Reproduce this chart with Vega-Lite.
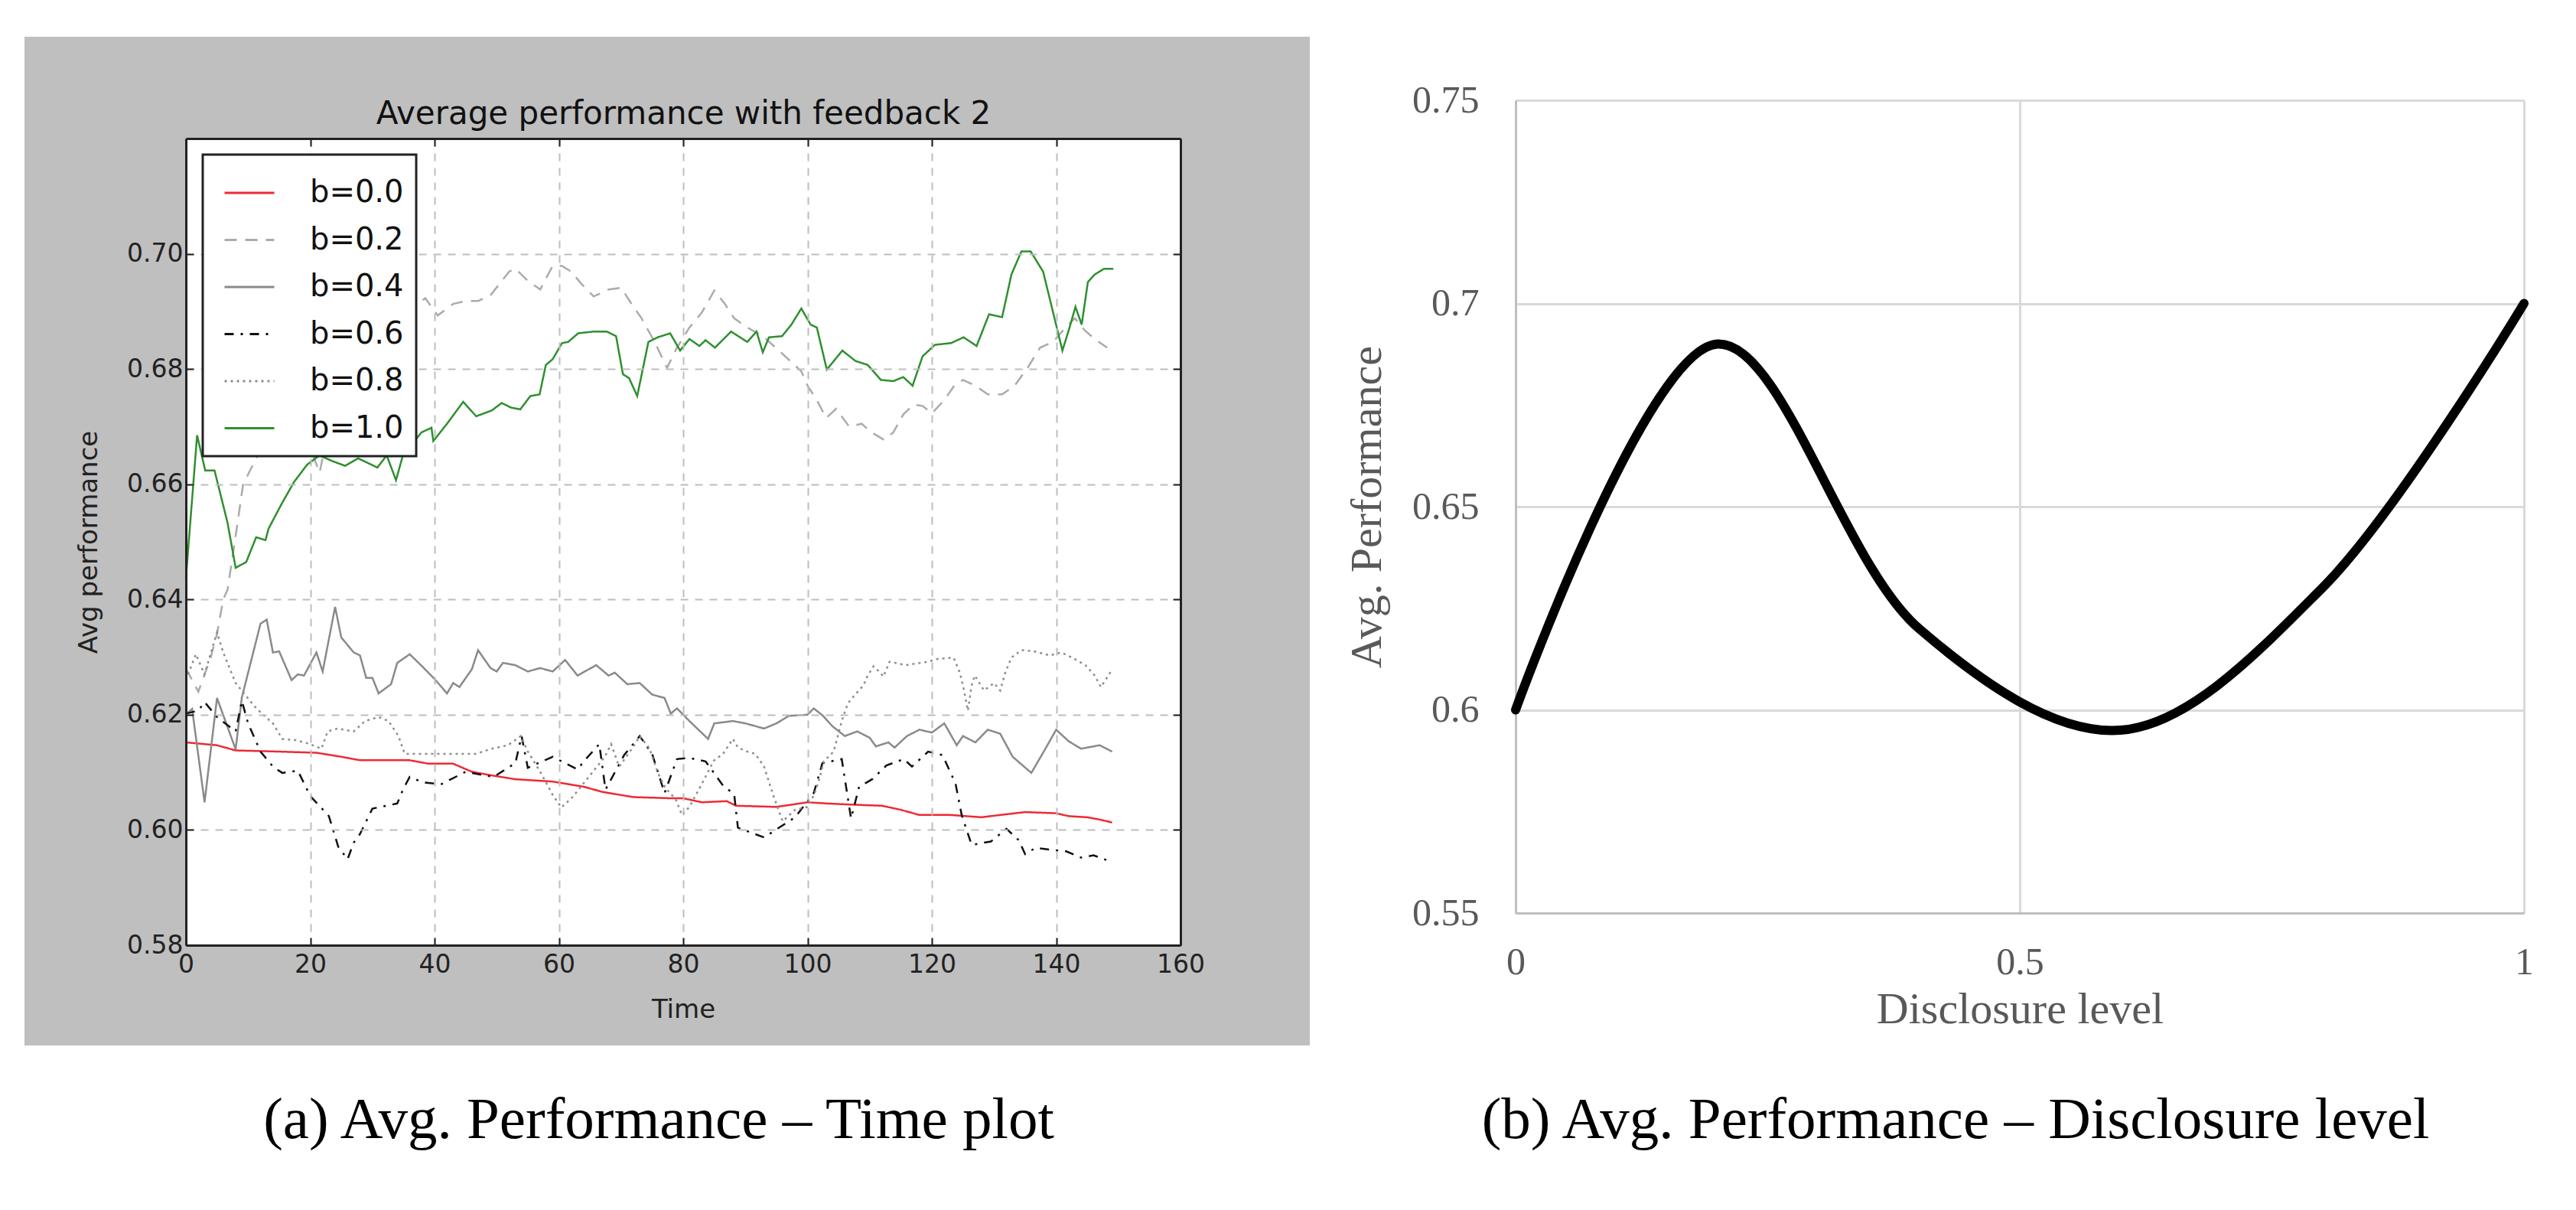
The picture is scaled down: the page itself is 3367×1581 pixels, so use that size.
{
  "$schema": "https://vega.github.io/schema/vega-lite/v6.json",
  "background": "white",
  "padding": {"left": 31, "top": 47, "right": 0, "bottom": 30},
  "spacing": 0,
  "config": {"view": {"stroke": null}},
  "datasets": {
    "left": [
      {"b":"b=0.0","t":0,"v":0.6152},{"b":"b=0.0","t":5,"v":0.6147},{"b":"b=0.0","t":8,"v":0.6138},{"b":"b=0.0","t":15,"v":0.6136},{"b":"b=0.0","t":21,"v":0.6134},{"b":"b=0.0","t":25,"v":0.6127},{"b":"b=0.0","t":28,"v":0.6121},{"b":"b=0.0","t":36,"v":0.6121},{"b":"b=0.0","t":39,"v":0.6115},{"b":"b=0.0","t":43,"v":0.6115},{"b":"b=0.0","t":46,"v":0.6101},{"b":"b=0.0","t":49,"v":0.6095},{"b":"b=0.0","t":53,"v":0.6088},{"b":"b=0.0","t":59,"v":0.6084},{"b":"b=0.0","t":64,"v":0.6075},{"b":"b=0.0","t":67,"v":0.6066},{"b":"b=0.0","t":72,"v":0.6057},{"b":"b=0.0","t":78,"v":0.6055},{"b":"b=0.0","t":80,"v":0.6055},{"b":"b=0.0","t":83,"v":0.6048},{"b":"b=0.0","t":87,"v":0.605},{"b":"b=0.0","t":88.5,"v":0.6042},{"b":"b=0.0","t":95,"v":0.604},{"b":"b=0.0","t":100,"v":0.6048},{"b":"b=0.0","t":103,"v":0.6046},{"b":"b=0.0","t":107,"v":0.6044},{"b":"b=0.0","t":112,"v":0.6042},{"b":"b=0.0","t":115,"v":0.6035},{"b":"b=0.0","t":118,"v":0.6026},{"b":"b=0.0","t":123,"v":0.6026},{"b":"b=0.0","t":128,"v":0.6022},{"b":"b=0.0","t":131,"v":0.6026},{"b":"b=0.0","t":135,"v":0.6031},{"b":"b=0.0","t":140,"v":0.6029},{"b":"b=0.0","t":142,"v":0.6024},{"b":"b=0.0","t":145,"v":0.6022},{"b":"b=0.0","t":147,"v":0.6018},{"b":"b=0.0","t":149,"v":0.6013},

      {"b":"b=0.2","t":0,"v":0.628},{"b":"b=0.2","t":2,"v":0.624},{"b":"b=0.2","t":4,"v":0.63},{"b":"b=0.2","t":5,"v":0.634},{"b":"b=0.2","t":6,"v":0.64},{"b":"b=0.2","t":6.7,"v":0.6417},{"b":"b=0.2","t":8,"v":0.651},{"b":"b=0.2","t":9.2,"v":0.66},{"b":"b=0.2","t":10.8,"v":0.6634},{"b":"b=0.2","t":12,"v":0.666},{"b":"b=0.2","t":14,"v":0.668},{"b":"b=0.2","t":18,"v":0.672},{"b":"b=0.2","t":21.5,"v":0.662},{"b":"b=0.2","t":24,"v":0.675},{"b":"b=0.2","t":28,"v":0.682},{"b":"b=0.2","t":32,"v":0.686},{"b":"b=0.2","t":36,"v":0.69},{"b":"b=0.2","t":38.5,"v":0.6923},{"b":"b=0.2","t":40.5,"v":0.6893},{"b":"b=0.2","t":43,"v":0.6913},{"b":"b=0.2","t":45,"v":0.6918},{"b":"b=0.2","t":47,"v":0.6918},{"b":"b=0.2","t":49,"v":0.6928},{"b":"b=0.2","t":52,"v":0.6969},{"b":"b=0.2","t":53,"v":0.6974},{"b":"b=0.2","t":55,"v":0.6953},{"b":"b=0.2","t":57,"v":0.6938},{"b":"b=0.2","t":59,"v":0.6979},{"b":"b=0.2","t":60.5,"v":0.6979},{"b":"b=0.2","t":62,"v":0.6969},{"b":"b=0.2","t":63.6,"v":0.6948},{"b":"b=0.2","t":65.6,"v":0.6926},{"b":"b=0.2","t":68,"v":0.6938},{"b":"b=0.2","t":70,"v":0.6941},{"b":"b=0.2","t":72,"v":0.6908},{"b":"b=0.2","t":73.3,"v":0.6888},{"b":"b=0.2","t":75.4,"v":0.6847},{"b":"b=0.2","t":77.4,"v":0.6802},{"b":"b=0.2","t":79,"v":0.6837},{"b":"b=0.2","t":81,"v":0.6872},{"b":"b=0.2","t":83,"v":0.6898},{"b":"b=0.2","t":85,"v":0.6936},{"b":"b=0.2","t":86.7,"v":0.6913},{"b":"b=0.2","t":88.2,"v":0.6888},{"b":"b=0.2","t":90.3,"v":0.6872},{"b":"b=0.2","t":92.8,"v":0.6857},{"b":"b=0.2","t":95.4,"v":0.6832},{"b":"b=0.2","t":97.4,"v":0.6812},{"b":"b=0.2","t":99,"v":0.6796},{"b":"b=0.2","t":100,"v":0.6771},{"b":"b=0.2","t":101.5,"v":0.6746},{"b":"b=0.2","t":103,"v":0.6715},{"b":"b=0.2","t":104.6,"v":0.6731},{"b":"b=0.2","t":106.7,"v":0.67},{"b":"b=0.2","t":108.7,"v":0.6705},{"b":"b=0.2","t":110.3,"v":0.669},{"b":"b=0.2","t":112.3,"v":0.6677},{"b":"b=0.2","t":113.8,"v":0.669},{"b":"b=0.2","t":115.4,"v":0.6721},{"b":"b=0.2","t":117,"v":0.6738},{"b":"b=0.2","t":118.5,"v":0.6736},{"b":"b=0.2","t":120,"v":0.6723},{"b":"b=0.2","t":122,"v":0.6746},{"b":"b=0.2","t":123.6,"v":0.6771},{"b":"b=0.2","t":125,"v":0.6781},{"b":"b=0.2","t":127,"v":0.6771},{"b":"b=0.2","t":129,"v":0.6756},{"b":"b=0.2","t":131.3,"v":0.6756},{"b":"b=0.2","t":133.3,"v":0.6771},{"b":"b=0.2","t":135.4,"v":0.6802},{"b":"b=0.2","t":137.4,"v":0.6837},{"b":"b=0.2","t":139.5,"v":0.6847},{"b":"b=0.2","t":141.5,"v":0.6872},{"b":"b=0.2","t":143,"v":0.6888},{"b":"b=0.2","t":144.6,"v":0.6867},{"b":"b=0.2","t":146.2,"v":0.6852},{"b":"b=0.2","t":148.2,"v":0.6837},

      {"b":"b=0.4","t":0,"v":0.62},{"b":"b=0.4","t":1,"v":0.621},{"b":"b=0.4","t":3,"v":0.6048},{"b":"b=0.4","t":5,"v":0.6229},{"b":"b=0.4","t":8,"v":0.614},{"b":"b=0.4","t":9,"v":0.623},{"b":"b=0.4","t":12,"v":0.6358},{"b":"b=0.4","t":13,"v":0.6365},{"b":"b=0.4","t":14,"v":0.6308},{"b":"b=0.4","t":15,"v":0.631},{"b":"b=0.4","t":17,"v":0.626},{"b":"b=0.4","t":18,"v":0.627},{"b":"b=0.4","t":19,"v":0.6268},{"b":"b=0.4","t":21,"v":0.6308},{"b":"b=0.4","t":22,"v":0.6275},{"b":"b=0.4","t":24,"v":0.6387},{"b":"b=0.4","t":25,"v":0.6334},{"b":"b=0.4","t":27,"v":0.6308},{"b":"b=0.4","t":28,"v":0.6303},{"b":"b=0.4","t":29,"v":0.6264},{"b":"b=0.4","t":30,"v":0.6264},{"b":"b=0.4","t":31,"v":0.6237},{"b":"b=0.4","t":33,"v":0.6253},{"b":"b=0.4","t":34,"v":0.629},{"b":"b=0.4","t":36,"v":0.6305},{"b":"b=0.4","t":38,"v":0.6284},{"b":"b=0.4","t":40,"v":0.6262},{"b":"b=0.4","t":42,"v":0.6237},{"b":"b=0.4","t":43,"v":0.6255},{"b":"b=0.4","t":44,"v":0.6248},{"b":"b=0.4","t":46,"v":0.6279},{"b":"b=0.4","t":47,"v":0.6312},{"b":"b=0.4","t":49,"v":0.6281},{"b":"b=0.4","t":50,"v":0.6275},{"b":"b=0.4","t":51,"v":0.629},{"b":"b=0.4","t":53,"v":0.6286},{"b":"b=0.4","t":55,"v":0.6275},{"b":"b=0.4","t":57,"v":0.6281},{"b":"b=0.4","t":59,"v":0.6275},{"b":"b=0.4","t":61,"v":0.6295},{"b":"b=0.4","t":63,"v":0.6268},{"b":"b=0.4","t":66,"v":0.6286},{"b":"b=0.4","t":68,"v":0.6268},{"b":"b=0.4","t":69,"v":0.6273},{"b":"b=0.4","t":71,"v":0.6253},{"b":"b=0.4","t":73,"v":0.6255},{"b":"b=0.4","t":75,"v":0.6235},{"b":"b=0.4","t":77,"v":0.6229},{"b":"b=0.4","t":78,"v":0.6202},{"b":"b=0.4","t":79,"v":0.6211},{"b":"b=0.4","t":81,"v":0.6189},{"b":"b=0.4","t":84,"v":0.6158},{"b":"b=0.4","t":85,"v":0.6185},{"b":"b=0.4","t":88,"v":0.6189},{"b":"b=0.4","t":90,"v":0.6185},{"b":"b=0.4","t":93,"v":0.6176},{"b":"b=0.4","t":95,"v":0.6185},{"b":"b=0.4","t":97,"v":0.6198},{"b":"b=0.4","t":100,"v":0.62},{"b":"b=0.4","t":101,"v":0.6211},{"b":"b=0.4","t":102.5,"v":0.6198},{"b":"b=0.4","t":104,"v":0.618},{"b":"b=0.4","t":106,"v":0.6163},{"b":"b=0.4","t":108,"v":0.6171},{"b":"b=0.4","t":110,"v":0.616},{"b":"b=0.4","t":111,"v":0.6145},{"b":"b=0.4","t":113,"v":0.6152},{"b":"b=0.4","t":114,"v":0.6143},{"b":"b=0.4","t":116,"v":0.6163},{"b":"b=0.4","t":118,"v":0.6174},{"b":"b=0.4","t":120,"v":0.6169},{"b":"b=0.4","t":122,"v":0.6185},{"b":"b=0.4","t":124,"v":0.6147},{"b":"b=0.4","t":125,"v":0.6163},{"b":"b=0.4","t":127,"v":0.6152},{"b":"b=0.4","t":129,"v":0.6174},{"b":"b=0.4","t":131,"v":0.6167},{"b":"b=0.4","t":133,"v":0.6127},{"b":"b=0.4","t":136,"v":0.6099},{"b":"b=0.4","t":138,"v":0.6136},{"b":"b=0.4","t":140,"v":0.6174},{"b":"b=0.4","t":142,"v":0.6154},{"b":"b=0.4","t":144,"v":0.6141},{"b":"b=0.4","t":147,"v":0.6147},{"b":"b=0.4","t":149,"v":0.6136},

      {"b":"b=0.6","t":0,"v":0.6202},{"b":"b=0.6","t":2,"v":0.6207},{"b":"b=0.6","t":3,"v":0.6222},{"b":"b=0.6","t":5,"v":0.6196},{"b":"b=0.6","t":8,"v":0.6171},{"b":"b=0.6","t":9,"v":0.6224},{"b":"b=0.6","t":10,"v":0.6185},{"b":"b=0.6","t":12,"v":0.6136},{"b":"b=0.6","t":14,"v":0.611},{"b":"b=0.6","t":15.5,"v":0.6099},{"b":"b=0.6","t":18,"v":0.6103},{"b":"b=0.6","t":20,"v":0.6059},{"b":"b=0.6","t":23,"v":0.6024},{"b":"b=0.6","t":24.5,"v":0.5971},{"b":"b=0.6","t":26,"v":0.5949},{"b":"b=0.6","t":27,"v":0.5978},{"b":"b=0.6","t":28,"v":0.5993},{"b":"b=0.6","t":30,"v":0.6037},{"b":"b=0.6","t":34,"v":0.6046},{"b":"b=0.6","t":35,"v":0.6072},{"b":"b=0.6","t":36,"v":0.6092},{"b":"b=0.6","t":38,"v":0.6083},{"b":"b=0.6","t":41,"v":0.6079},{"b":"b=0.6","t":45,"v":0.6101},{"b":"b=0.6","t":49.5,"v":0.6092},{"b":"b=0.6","t":53,"v":0.6116},{"b":"b=0.6","t":54,"v":0.6163},{"b":"b=0.6","t":55,"v":0.6108},{"b":"b=0.6","t":59,"v":0.6127},{"b":"b=0.6","t":63,"v":0.6105},{"b":"b=0.6","t":64,"v":0.6119},{"b":"b=0.6","t":66.5,"v":0.6149},{"b":"b=0.6","t":67.5,"v":0.607},{"b":"b=0.6","t":70.5,"v":0.613},{"b":"b=0.6","t":73,"v":0.6163},{"b":"b=0.6","t":75,"v":0.6132},{"b":"b=0.6","t":77,"v":0.6064},{"b":"b=0.6","t":79,"v":0.6123},{"b":"b=0.6","t":81,"v":0.6125},{"b":"b=0.6","t":83.6,"v":0.6119},{"b":"b=0.6","t":86.4,"v":0.6077},{"b":"b=0.6","t":88.2,"v":0.6062},{"b":"b=0.6","t":88.8,"v":0.6004},{"b":"b=0.6","t":93,"v":0.5987},{"b":"b=0.6","t":98,"v":0.6022},{"b":"b=0.6","t":101,"v":0.6064},{"b":"b=0.6","t":102.4,"v":0.6116},{"b":"b=0.6","t":105.5,"v":0.6123},{"b":"b=0.6","t":106.3,"v":0.6068},{"b":"b=0.6","t":107,"v":0.602},{"b":"b=0.6","t":108.3,"v":0.6075},{"b":"b=0.6","t":110.4,"v":0.6088},{"b":"b=0.6","t":112.7,"v":0.6112},{"b":"b=0.6","t":115.5,"v":0.6123},{"b":"b=0.6","t":116.8,"v":0.611},{"b":"b=0.6","t":119.4,"v":0.6136},{"b":"b=0.6","t":121.7,"v":0.613},{"b":"b=0.6","t":123.8,"v":0.6081},{"b":"b=0.6","t":124.8,"v":0.6026},{"b":"b=0.6","t":126.4,"v":0.5974},{"b":"b=0.6","t":129.5,"v":0.598},{"b":"b=0.6","t":132,"v":0.6002},{"b":"b=0.6","t":134,"v":0.5982},{"b":"b=0.6","t":135,"v":0.5958},{"b":"b=0.6","t":136.7,"v":0.5969},{"b":"b=0.6","t":139.5,"v":0.5965},{"b":"b=0.6","t":141.6,"v":0.5963},{"b":"b=0.6","t":144,"v":0.5952},{"b":"b=0.6","t":146,"v":0.5956},{"b":"b=0.6","t":148.3,"v":0.5947},

      {"b":"b=0.8","t":0,"v":0.626},{"b":"b=0.8","t":1.6,"v":0.6305},{"b":"b=0.8","t":3,"v":0.627},{"b":"b=0.8","t":5,"v":0.6343},{"b":"b=0.8","t":6,"v":0.6308},{"b":"b=0.8","t":8,"v":0.6255},{"b":"b=0.8","t":11,"v":0.6215},{"b":"b=0.8","t":12.4,"v":0.62},{"b":"b=0.8","t":14,"v":0.6185},{"b":"b=0.8","t":15.5,"v":0.6158},{"b":"b=0.8","t":17.6,"v":0.6156},{"b":"b=0.8","t":19.7,"v":0.615},{"b":"b=0.8","t":21.8,"v":0.6141},{"b":"b=0.8","t":22.8,"v":0.6171},{"b":"b=0.8","t":24.4,"v":0.6176},{"b":"b=0.8","t":27,"v":0.6171},{"b":"b=0.8","t":28.8,"v":0.6189},{"b":"b=0.8","t":31,"v":0.6196},{"b":"b=0.8","t":32.6,"v":0.6189},{"b":"b=0.8","t":34.2,"v":0.6163},{"b":"b=0.8","t":35.2,"v":0.6132},{"b":"b=0.8","t":37,"v":0.6132},{"b":"b=0.8","t":41.5,"v":0.6132},{"b":"b=0.8","t":46.6,"v":0.6132},{"b":"b=0.8","t":49.2,"v":0.6141},{"b":"b=0.8","t":51.8,"v":0.6147},{"b":"b=0.8","t":53.9,"v":0.6163},{"b":"b=0.8","t":55,"v":0.6136},{"b":"b=0.8","t":57,"v":0.6101},{"b":"b=0.8","t":59,"v":0.6061},{"b":"b=0.8","t":60.4,"v":0.6039},{"b":"b=0.8","t":62.2,"v":0.6057},{"b":"b=0.8","t":64.8,"v":0.6092},{"b":"b=0.8","t":67.4,"v":0.6127},{"b":"b=0.8","t":68.4,"v":0.6149},{"b":"b=0.8","t":69.7,"v":0.611},{"b":"b=0.8","t":72,"v":0.6145},{"b":"b=0.8","t":73,"v":0.6163},{"b":"b=0.8","t":74.6,"v":0.6141},{"b":"b=0.8","t":76,"v":0.6097},{"b":"b=0.8","t":77.2,"v":0.6072},{"b":"b=0.8","t":78.8,"v":0.6053},{"b":"b=0.8","t":79.8,"v":0.6026},{"b":"b=0.8","t":81,"v":0.604},{"b":"b=0.8","t":83,"v":0.608},{"b":"b=0.8","t":84.9,"v":0.612},{"b":"b=0.8","t":86.4,"v":0.6132},{"b":"b=0.8","t":88,"v":0.6158},{"b":"b=0.8","t":88.8,"v":0.6143},{"b":"b=0.8","t":90.3,"v":0.6136},{"b":"b=0.8","t":91.6,"v":0.6132},{"b":"b=0.8","t":93,"v":0.611},{"b":"b=0.8","t":94.5,"v":0.606},{"b":"b=0.8","t":96,"v":0.6015},{"b":"b=0.8","t":98,"v":0.6035},{"b":"b=0.8","t":100,"v":0.604},{"b":"b=0.8","t":101.1,"v":0.6062},{"b":"b=0.8","t":102,"v":0.6092},{"b":"b=0.8","t":102.6,"v":0.6119},{"b":"b=0.8","t":104.2,"v":0.6136},{"b":"b=0.8","t":105.5,"v":0.6189},{"b":"b=0.8","t":106.5,"v":0.622},{"b":"b=0.8","t":107.5,"v":0.6233},{"b":"b=0.8","t":109,"v":0.6251},{"b":"b=0.8","t":109.6,"v":0.6266},{"b":"b=0.8","t":110.6,"v":0.6284},{"b":"b=0.8","t":111.7,"v":0.6273},{"b":"b=0.8","t":112.2,"v":0.6266},{"b":"b=0.8","t":113.2,"v":0.6292},{"b":"b=0.8","t":115.8,"v":0.6286},{"b":"b=0.8","t":119.4,"v":0.6292},{"b":"b=0.8","t":121,"v":0.6297},{"b":"b=0.8","t":123.5,"v":0.6299},{"b":"b=0.8","t":124.5,"v":0.6273},{"b":"b=0.8","t":125.1,"v":0.6246},{"b":"b=0.8","t":125.8,"v":0.6207},{"b":"b=0.8","t":126.4,"v":0.6251},{"b":"b=0.8","t":126.9,"v":0.6268},{"b":"b=0.8","t":128.4,"v":0.6242},{"b":"b=0.8","t":130,"v":0.6255},{"b":"b=0.8","t":131,"v":0.6242},{"b":"b=0.8","t":131.8,"v":0.6273},{"b":"b=0.8","t":132.8,"v":0.6299},{"b":"b=0.8","t":134.4,"v":0.6312},{"b":"b=0.8","t":136.4,"v":0.631},{"b":"b=0.8","t":139,"v":0.6303},{"b":"b=0.8","t":140.8,"v":0.6308},{"b":"b=0.8","t":142.6,"v":0.6299},{"b":"b=0.8","t":144.7,"v":0.6286},{"b":"b=0.8","t":146.2,"v":0.6268},{"b":"b=0.8","t":147.2,"v":0.6248},{"b":"b=0.8","t":148.8,"v":0.6275},

      {"b":"b=1.0","t":0,"v":0.6437},{"b":"b=1.0","t":1.8,"v":0.6685},{"b":"b=1.0","t":3.1,"v":0.6624},{"b":"b=1.0","t":4.6,"v":0.6624},{"b":"b=1.0","t":6.7,"v":0.6533},{"b":"b=1.0","t":8,"v":0.6455},{"b":"b=1.0","t":9.7,"v":0.6465},{"b":"b=1.0","t":11.3,"v":0.6508},{"b":"b=1.0","t":12.8,"v":0.6503},{"b":"b=1.0","t":13.3,"v":0.6523},{"b":"b=1.0","t":15.4,"v":0.6566},{"b":"b=1.0","t":17.4,"v":0.6604},{"b":"b=1.0","t":19.5,"v":0.6634},{"b":"b=1.0","t":21.5,"v":0.665},{"b":"b=1.0","t":23.6,"v":0.664},{"b":"b=1.0","t":25.6,"v":0.6632},{"b":"b=1.0","t":27.7,"v":0.6645},{"b":"b=1.0","t":30.8,"v":0.6629},{"b":"b=1.0","t":32.3,"v":0.665},{"b":"b=1.0","t":33.8,"v":0.6607},{"b":"b=1.0","t":34.9,"v":0.665},{"b":"b=1.0","t":37.9,"v":0.669},{"b":"b=1.0","t":39.5,"v":0.6698},{"b":"b=1.0","t":39.8,"v":0.6675},{"b":"b=1.0","t":42,"v":0.6705},{"b":"b=1.0","t":44.6,"v":0.6743},{"b":"b=1.0","t":46.7,"v":0.6718},{"b":"b=1.0","t":49.2,"v":0.6728},{"b":"b=1.0","t":50.8,"v":0.6741},{"b":"b=1.0","t":52.3,"v":0.6733},{"b":"b=1.0","t":53.8,"v":0.673},{"b":"b=1.0","t":55.4,"v":0.6753},{"b":"b=1.0","t":56.9,"v":0.6756},{"b":"b=1.0","t":57.9,"v":0.6807},{"b":"b=1.0","t":59,"v":0.6817},{"b":"b=1.0","t":60.5,"v":0.6845},{"b":"b=1.0","t":61.5,"v":0.6847},{"b":"b=1.0","t":63.1,"v":0.6862},{"b":"b=1.0","t":65.6,"v":0.6865},{"b":"b=1.0","t":67.7,"v":0.6865},{"b":"b=1.0","t":69.2,"v":0.6857},{"b":"b=1.0","t":70.3,"v":0.6791},{"b":"b=1.0","t":71.3,"v":0.6784},{"b":"b=1.0","t":72.6,"v":0.6753},{"b":"b=1.0","t":74.4,"v":0.6847},{"b":"b=1.0","t":75.9,"v":0.6855},{"b":"b=1.0","t":77.9,"v":0.6862},{"b":"b=1.0","t":79.5,"v":0.6832},{"b":"b=1.0","t":81,"v":0.6852},{"b":"b=1.0","t":82.6,"v":0.684},{"b":"b=1.0","t":83.6,"v":0.685},{"b":"b=1.0","t":85.1,"v":0.6837},{"b":"b=1.0","t":87.7,"v":0.6865},{"b":"b=1.0","t":90.3,"v":0.6847},{"b":"b=1.0","t":91.8,"v":0.6865},{"b":"b=1.0","t":92.8,"v":0.6829},{"b":"b=1.0","t":93.8,"v":0.6855},{"b":"b=1.0","t":95.9,"v":0.6857},{"b":"b=1.0","t":97.4,"v":0.6877},{"b":"b=1.0","t":99,"v":0.6905},{"b":"b=1.0","t":100.5,"v":0.6877},{"b":"b=1.0","t":101.5,"v":0.6872},{"b":"b=1.0","t":103.1,"v":0.6799},{"b":"b=1.0","t":105.6,"v":0.6832},{"b":"b=1.0","t":107.7,"v":0.6814},{"b":"b=1.0","t":109.7,"v":0.6807},{"b":"b=1.0","t":111.8,"v":0.6781},{"b":"b=1.0","t":113.8,"v":0.6779},{"b":"b=1.0","t":115.4,"v":0.6786},{"b":"b=1.0","t":116.9,"v":0.6771},{"b":"b=1.0","t":118.5,"v":0.6822},{"b":"b=1.0","t":120.5,"v":0.6842},{"b":"b=1.0","t":123.1,"v":0.6845},{"b":"b=1.0","t":125.1,"v":0.6855},{"b":"b=1.0","t":127.2,"v":0.684},{"b":"b=1.0","t":129.2,"v":0.6895},{"b":"b=1.0","t":131.3,"v":0.689},{"b":"b=1.0","t":132.8,"v":0.6964},{"b":"b=1.0","t":134.4,"v":0.7004},{"b":"b=1.0","t":135.9,"v":0.7004},{"b":"b=1.0","t":137.9,"v":0.6969},{"b":"b=1.0","t":141,"v":0.6832},{"b":"b=1.0","t":142.1,"v":0.687},{"b":"b=1.0","t":143.1,"v":0.6908},{"b":"b=1.0","t":144.1,"v":0.6877},{"b":"b=1.0","t":145.1,"v":0.6951},{"b":"b=1.0","t":146.2,"v":0.6964},{"b":"b=1.0","t":147.7,"v":0.6974},{"b":"b=1.0","t":149.2,"v":0.6974}
    ],
    "right": [
      {"level": 0, "perf": 0.6},
      {"level": 0.2, "perf": 0.69},
      {"level": 0.4, "perf": 0.62},
      {"level": 0.6, "perf": 0.595},
      {"level": 0.8, "perf": 0.63},
      {"level": 1, "perf": 0.7}
    ]
  },
  "hconcat": [
    {
      "bounds": "flush",
      "spacing": 0,
      "vconcat": [
        {
          "width": 1300,
          "height": 50,
          "data": {"values": []},
          "mark": {"type": "point", "opacity": 0}
        },
        {
          "width": 1300,
          "height": 1054,
          "title": {
            "text": "(a) Avg. Performance – Time plot",
            "orient": "bottom",
            "anchor": "middle",
            "font": "Liberation Serif",
            "fontSize": 77,
            "fontWeight": "normal",
            "color": "black",
            "offset": 60,
            "dx": -32
          },
          "layer": [
            {
              "data": {"values": [{}]},
              "mark": {"type": "rect", "color": "#bfbfbf"},
              "encoding": {
                "x": {"datum": -25.97, "type": "quantitative", "scale": {"domain": [0, 160], "nice": false, "zero": false}, "axis": null},
                "x2": {"datum": 180.8},
                "y": {"datum": 0.73767, "type": "quantitative", "scale": {"domain": [0.58, 0.72], "nice": false, "zero": false}, "axis": null},
                "y2": {"datum": 0.5626}
              }
            },
            {
              "data": {"values": [{}]},
              "mark": {"type": "rect", "color": "white"},
              "encoding": {
                "x": {
                  "datum": 0, "type": "quantitative",
                  "axis": {
                    "orient": "top", "values": [0, 20, 40, 60, 80, 100, 120, 140, 160],
                    "labels": false, "grid": false, "zindex": 1,
                    "ticks": true, "tickSize": -10, "tickWidth": 2, "tickColor": "#222",
                    "domain": true, "domainColor": "#222", "domainWidth": 3,
                    "title": "Average performance with feedback 2",
                    "titleFont": "DejaVu Sans", "titleFontSize": 42, "titleFontWeight": "normal",
                    "titleColor": "#111", "titlePadding": 10
                  }
                },
                "x2": {"datum": 160},
                "y": {
                  "datum": 0.72, "type": "quantitative",
                  "axis": {
                    "orient": "right", "values": [0.58, 0.6, 0.62, 0.64, 0.66, 0.68, 0.7],
                    "labels": false, "grid": false, "zindex": 1,
                    "ticks": true, "tickSize": -10, "tickWidth": 2, "tickColor": "#222",
                    "domain": true, "domainColor": "#222", "domainWidth": 3,
                    "title": null
                  }
                },
                "y2": {"datum": 0.58}
              }
            },
            {
              "data": {"name": "left"},
              "mark": {"type": "line", "strokeWidth": 2.5},
              "encoding": {
                "x": {
                  "field": "t", "type": "quantitative",
                  "axis": {
                    "orient": "bottom", "values": [0, 20, 40, 60, 80, 100, 120, 140, 160], "format": "d",
                    "zindex": 1, "labelFlush": false, "labelOverlap": false,
                    "grid": true, "gridColor": "#bdbdbd", "gridDash": [10, 9], "gridWidth": 2,
                    "ticks": true, "tickSize": -10, "tickWidth": 2, "tickColor": "#222",
                    "domain": true, "domainColor": "#222", "domainWidth": 3,
                    "labelFont": "DejaVu Sans", "labelFontSize": 33, "labelColor": "#222", "labelPadding": 19,
                    "title": "Time", "titleFont": "DejaVu Sans", "titleFontSize": 34, "titleFontWeight": "normal",
                    "titleColor": "#222", "titlePadding": 25
                  }
                },
                "y": {
                  "field": "v", "type": "quantitative",
                  "axis": {
                    "orient": "left", "values": [0.58, 0.6, 0.62, 0.64, 0.66, 0.68, 0.7], "format": ".2f",
                    "zindex": 1, "labelFlush": false, "labelOverlap": false,
                    "grid": true, "gridColor": "#bdbdbd", "gridDash": [10, 9], "gridWidth": 2,
                    "ticks": true, "tickSize": -10, "tickWidth": 2, "tickColor": "#222",
                    "domain": true, "domainColor": "#222", "domainWidth": 3,
                    "labelFont": "DejaVu Sans", "labelFontSize": 33, "labelColor": "#222", "labelPadding": 14,
                    "title": "Avg performance", "titleFont": "DejaVu Sans", "titleFontSize": 34, "titleFontWeight": "normal",
                    "titleColor": "#222", "titlePadding": 32
                  }
                },
                "color": {
                  "field": "b", "type": "nominal",
                  "scale": {
                    "domain": ["b=0.0", "b=0.2", "b=0.4", "b=0.6", "b=0.8", "b=1.0"],
                    "range": ["#ee2a35", "#ababab", "#8a8a8a", "#111111", "#8f8f8f", "#2f8f2f"]
                  },
                  "legend": {
                    "orient": "none", "legendX": 22, "legendY": 71, "title": null,
                    "symbolType": "stroke", "symbolSize": 4225, "symbolStrokeWidth": 3, "symbolOffset": 11,
                    "labelFont": "DejaVu Sans", "labelFontSize": 40, "labelColor": "#111", "labelOffset": 45,
                    "padding": 16, "rowPadding": 7.5,
                    "strokeColor": "#222", "fillColor": "white",
                    "encode": {"legend": {"update": {"strokeWidth": {"value": 3}}}}
                  }
                },
                "strokeDash": {
                  "field": "b", "type": "nominal",
                  "scale": {
                    "domain": ["b=0.0", "b=0.2", "b=0.4", "b=0.6", "b=0.8", "b=1.0"],
                    "range": [[1, 0], [16, 11], [1, 0], [12, 9, 3, 9], [3, 5], [1, 0]]
                  }
                }
              }
            }
          ],
          "resolve": {"axis": {"x": "independent", "y": "independent"}}
        }
      ]
    },
    {
      "width": 1318,
      "height": 1062,
      "title": {
        "text": "(b) Avg. Performance – Disclosure level",
        "orient": "bottom",
        "anchor": "middle",
        "font": "Liberation Serif",
        "fontSize": 77,
        "fontWeight": "normal",
        "color": "black",
        "offset": 60,
        "dx": -84
      },
      "layer": [
        {
          "data": {"values": [{}]},
          "mark": {"type": "rect", "opacity": 0},
          "encoding": {
            "x": {"datum": -0.2026, "type": "quantitative", "scale": {"domain": [0, 1], "nice": false, "zero": false}, "axis": null},
            "x2": {"datum": 1.0539},
            "y": {"datum": 0.76563, "type": "quantitative", "scale": {"domain": [0.55, 0.75], "nice": false, "zero": false}, "axis": null},
            "y2": {"datum": 0.51742}
          }
        },
        {
          "data": {"name": "right"},
          "mark": {"type": "line", "interpolate": "catmull-rom", "color": "black", "strokeWidth": 12, "strokeCap": "round"},
          "encoding": {
            "x": {
              "field": "level", "type": "quantitative",
              "axis": {
                "orient": "bottom",
                "values": [0, 0.5, 1], "format": "~g", "labelFlush": false, "labelOverlap": false,
                "grid": true, "gridColor": "#d9d9d9", "gridWidth": 3,
                "ticks": false, "tickSize": 0,
                "domain": true, "domainColor": "#bfbfbf", "domainWidth": 3,
                "labelFont": "Liberation Serif", "labelFontSize": 50, "labelColor": "#595959", "labelPadding": 39,
                "title": "Disclosure level", "titleFont": "Liberation Serif", "titleFontSize": 58,
                "titleFontWeight": "normal", "titleColor": "#595959", "titlePadding": 8
              }
            },
            "y": {
              "field": "perf", "type": "quantitative",
              "axis": {
                "orient": "left",
                "values": [0.55, 0.6, 0.65, 0.7, 0.75], "format": "~g", "labelFlush": false, "labelOverlap": false,
                "grid": true, "gridColor": "#d9d9d9", "gridWidth": 3,
                "ticks": false, "tickSize": 0,
                "domain": true, "domainColor": "#bfbfbf", "domainWidth": 3,
                "labelFont": "Liberation Serif", "labelFontSize": 50, "labelColor": "#595959", "labelPadding": 48,
                "title": "Avg. Performance", "titleFont": "Liberation Serif", "titleFontSize": 58,
                "titleFontWeight": "normal", "titleColor": "#595959", "titlePadding": 29
              }
            }
          }
        }
      ],
      "resolve": {"axis": {"x": "independent", "y": "independent"}}
    }
  ]
}
